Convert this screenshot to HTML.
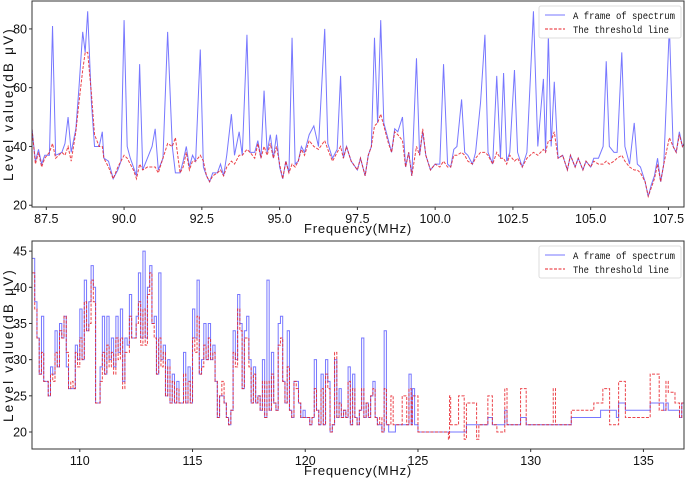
<!DOCTYPE html>
<html><head><meta charset="utf-8"><style>
body{margin:0;background:#fff;}
svg{display:block;font-family:"Liberation Sans","Noto Sans CJK SC",sans-serif;}
</style></head><body>
<svg id="chart" width="685" height="478" viewBox="0 0 685 478"></svg>
<script>
const topFreq=[87.04,87.15,87.25,87.35,87.45,87.6,87.7,87.8,88.0,88.1,88.2,88.3,88.45,88.55,88.67,88.75,88.83,88.95,89.05,89.2,89.3,89.35,89.5,89.65,89.8,89.9,90.0,90.1,90.2,90.3,90.4,90.5,90.6,90.75,90.9,91.0,91.1,91.25,91.4,91.55,91.65,91.8,91.9,92.0,92.1,92.2,92.3,92.45,92.55,92.65,92.75,92.85,93.0,93.1,93.2,93.3,93.45,93.55,93.7,93.8,93.95,94.05,94.2,94.3,94.4,94.5,94.6,94.7,94.8,94.9,95.0,95.1,95.2,95.3,95.4,95.5,95.6,95.7,95.8,95.95,96.1,96.25,96.45,96.55,96.7,96.85,96.96,97.05,97.15,97.3,97.5,97.6,97.75,97.85,97.95,98.05,98.15,98.25,98.35,98.5,98.6,98.7,98.8,98.95,99.05,99.15,99.25,99.4,99.5,99.6,99.7,99.85,100.0,100.15,100.27,100.4,100.5,100.6,100.7,100.85,100.95,101.05,101.2,101.3,101.46,101.6,101.7,101.85,101.98,102.1,102.2,102.3,102.4,102.55,102.65,102.8,102.95,103.16,103.3,103.48,103.55,103.64,103.73,103.83,103.95,104.1,104.25,104.35,104.5,104.6,104.75,104.85,105.0,105.1,105.25,105.4,105.5,105.6,105.75,105.85,106.0,106.1,106.25,106.4,106.5,106.6,106.75,106.85,106.95,107.05,107.15,107.25,107.35,107.53,107.65,107.75,107.85,107.95,108.0];
const topSpectrum=[46,35,39,34,37,37,81,37,38,41,50,38,46,60,79,72,86,55,40,40,45,36,35,29,32,35,83,40,36,33,30,68,32,36,40,46,32,36,79,40,31,31,35,40,33,37,35,73,33,30,28,31,31,34,30,37,51,37,45,37,78,38,38,42,36,59,38,44,36,44,33,29,35,31,77,34,35,40,38,44,47,40,80,41,36,39,64,36,40,35,32,36,30,37,40,77,48,83,48,42,38,46,45,50,33,38,30,70,37,45,37,32,34,34,68,34,33,39,40,56,38,37,34,38,55,78,38,34,64,36,65,35,38,66,38,33,38,86,40,63,38,78,40,62,36,37,32,37,33,36,32,35,33,36,36,40,69,40,38,38,72,40,34,48,34,33,28,23,27,30,36,28,34,81,40,38,45,40,41];
const topThreshold=[46,34,38,33,36,38,41,36,38,37,40,35,45,55,66,72,72,58,44,40,40,36,33,29,33,35,37,36,34,32,29,34,32,33,33,33,31,36,41,40,43,31,33,38,32,35,35,37,35,30,28,30,31,32,30,33,35,34,37,37,39,38,36,41,36,40,37,41,36,40,34,29,35,31,34,33,35,39,37,42,40,39,42,39,35,38,40,36,40,35,32,36,30,37,40,47,48,51,47,41,38,45,44,42,33,38,30,40,37,46,37,32,34,33,35,33,33,37,37,38,37,35,34,36,38,38,37,34,38,36,36,34,37,35,36,33,36,38,37,39,38,42,42,45,36,37,32,37,33,36,32,35,33,35,34,34,35,34,35,36,37,35,33,32,32,31,28,23,26,29,34,28,34,43,40,38,44,40,41];
const topXTicks=[87.5,90.0,92.5,95.0,97.5,100.0,102.5,105.0,107.5];
const topYTicks=[20,40,60,80];

const botDenseStart=107.9;
const botDenseSpectrum=[44,38,33,28,36,27,27,25,29,28,34,29,35,33,36,29,26,26,26,32,30,37,30,41,34,38,43,40,24,24,29,36,28,36,30,33,29,36,31,37,27,33,32,39,33,33,36,42,33,45,33,40,43,35,36,28,42,30,32,25,30,24,28,24,27,24,24,31,24,29,24,37,33,41,28,30,35,30,35,30,32,27,22,25,25,24,22,21,23,34,30,39,35,26,34,36,30,24,29,24,25,23,30,22,41,23,31,24,23,35,36,27,24,34,23,22,27,27,24,22,23,22,22,21,22,30,23,21,28,21,30,27,20,21,30,22,26,22,23,22,29,21,28,22,21,23,33,22,24,22,25,27,22,21,21,20,34,21,20,20,20,21];
const botDenseThreshold=[42,37,33,28,31,27,27,25,28,27,31,29,34,33,36,31,26,27,26,31,29,33,30,38,34,35,41,38,24,24,27,31,28,32,29,31,28,33,30,33,26,31,31,36,33,33,35,38,32,37,32,39,42,35,33,28,33,29,31,25,29,24,27,24,26,24,24,28,24,27,24,33,31,36,28,29,32,30,33,30,31,27,22,25,27,24,22,21,23,31,29,37,34,26,33,33,29,24,28,24,25,23,27,22,27,23,28,24,23,32,33,27,24,29,23,22,27,26,24,22,22,22,22,21,22,26,23,21,26,21,28,26,20,21,31,22,24,22,23,22,27,21,26,22,21,23,26,22,24,22,25,26,22,21,22,20,26,21,21,25,21,21];
const botSparseFreq=[124.1,124.3,124.5,124.6,124.7,124.75,124.85,125.0,126.35,126.4,126.45,126.8,127.05,127.15,127.6,127.7,128.1,128.3,128.5,128.85,128.95,129.55,129.8,131.0,131.1,131.8,132.8,133.1,133.2,133.5,133.8,133.9,134.2,135.3,135.7,135.9,136.0,136.1,136.4,136.6,136.7,136.9];
const botSparseSpectrum=[21,21,21,28,21,26,21,20,20,20,20,20,20,21,21,21,22,21,21,23,21,22,21,21,21,22,22,23,23,23,22,24,23,24,24,23,24,23,23,22,24,24];
const botSparseThreshold=[21,25,21,26,21,25,25,20,19,25,21,25,19,24,19,21,25,21,20,26,21,26,21,26,21,23,24,24,26,21,21,27,22,28,23,23,27,25.5,24,22,24,24];
const botXTicks=[110,115,120,125,130,135];
const botYTicks=[20,25,30,35,40,45];

const NS='http://www.w3.org/2000/svg';
const svg=document.getElementById('chart');
function mk(tag,attrs,parent){const e=document.createElementNS(NS,tag);for(const k in attrs)e.setAttribute(k,attrs[k]);(parent||svg).appendChild(e);return e;}

function panel(cfg){
  const g=mk('g',{});
  
  
  const sx=f=>cfg.x0+(f-cfg.fmin)/(cfg.fmax-cfg.fmin)*(cfg.x1-cfg.x0);
  const sy=v=>cfg.y1-(v-cfg.vmin)/(cfg.vmax-cfg.vmin)*(cfg.y1-cfg.y0);
  const cp='clip-'+cfg.name;
  const cl=mk('clipPath',{id:cp},g);mk('rect',{x:cfg.x0,y:cfg.y0,width:cfg.x1-cfg.x0,height:cfg.y1-cfg.y0},cl);
  function path(fr,vals,step){
    let d='';
    for(let i=0;i<fr.length;i++){
      const x=sx(fr[i]).toFixed(2),y=sy(vals[i]).toFixed(2);
      if(i===0)d+='M'+x+' '+y;
      else if(step){d+='H'+x+'V'+y;}
      else d+='L'+x+' '+y;
    }
    return d;
  }
  const blue=mk('path',{d:path(cfg.freq,cfg.spec,cfg.step),fill:'none',stroke:'#4a4aff','stroke-opacity':'0.75','stroke-width':'1','clip-path':'url(#'+cp+')'},g);
  
  
  const red=mk('path',{d:path(cfg.freq,cfg.thr,cfg.step),fill:'none',stroke:'#e8222a','stroke-opacity':'0.85','stroke-width':'1','stroke-dasharray':'3,1.5','clip-path':'url(#'+cp+')'},g);
  
  
  const frame=mk('rect',{x:cfg.x0,y:cfg.y0,width:cfg.x1-cfg.x0,height:cfg.y1-cfg.y0,fill:'none',stroke:'#333','stroke-width':'1'},g);
  
  
  cfg.xticks.forEach(t=>{
    const x=sx(t);
    mk('line',{x1:x,x2:x,y1:cfg.y1,y2:cfg.y1+3,stroke:'#333'},g);
    const tx=mk('text',{x:x,y:cfg.y1+16,'text-anchor':'middle','font-size':'12.5',fill:'#111'},g);
    tx.textContent=cfg.xfmt(t);
    
    
  });
  cfg.yticks.forEach(t=>{
    const y=sy(t);
    mk('line',{x1:cfg.x0-3,x2:cfg.x0,y1:y,y2:y,stroke:'#333'},g);
    const tx=mk('text',{x:cfg.x0-5,y:y+4.5,'text-anchor':'end','font-size':'12.5',fill:'#111'},g);
    tx.textContent=t;
    
    
  });
  const xl=mk('text',{x:(cfg.x0+cfg.x1)/2,y:cfg.y1+26,'text-anchor':'middle','font-size':'13',fill:'#111','letter-spacing':'0.8'},g);
  xl.textContent='Frequency(MHz)';
  
  
  const cy=(cfg.y0+cfg.y1)/2;
  const yl=mk('text',{x:13,y:cy,'text-anchor':'middle','font-size':'13.5',fill:'#111','letter-spacing':'2.2',transform:'rotate(-90 13 '+cy+')'},g);
  yl.textContent='Level value(dB μV)';
  
  
  const lg=mk('g',{},g);
  
  
  const lx=cfg.x1-145,ly=cfg.y0+5;
  mk('rect',{x:lx,y:ly,width:142,height:32,rx:2,fill:'#fff',stroke:'#ddd'},lg);
  mk('line',{x1:lx+6,x2:lx+26,y1:ly+9,y2:ly+9,stroke:'#4a4aff','stroke-opacity':'0.75'},lg);
  mk('line',{x1:lx+6,x2:lx+26,y1:ly+23,y2:ly+23,stroke:'#e8222a','stroke-dasharray':'3,1.5'},lg);
  const t1=mk('text',{x:lx+34,y:ly+13,'font-size':'10','font-family':'Liberation Mono, monospace',fill:'#111',textLength:'102',lengthAdjust:'spacingAndGlyphs'},lg);
  t1.textContent='A frame of spectrum';
  
  
  const t2=mk('text',{x:lx+34,y:ly+27,'font-size':'10','font-family':'Liberation Mono, monospace',fill:'#111',textLength:'96',lengthAdjust:'spacingAndGlyphs'},lg);
  t2.textContent='The threshold line';
  
  
}

panel({name:'top-chart',x0:32,x1:684,y0:1,y1:207,fmin:87.04,fmax:108.0,vmin:19.4,vmax:89.5,
  freq:topFreq,spec:topSpectrum,thr:topThreshold,step:false,xticks:topXTicks,yticks:topYTicks,xfmt:t=>t.toFixed(1)});

const botFreq=[],botSpectrum=[],botThreshold=[];
botDenseSpectrum.forEach((v,i)=>{botFreq.push(+(botDenseStart+i*0.1).toFixed(2));botSpectrum.push(v);botThreshold.push(botDenseThreshold[i]);});
botSparseFreq.forEach((f,i)=>{botFreq.push(f);botSpectrum.push(botSparseSpectrum[i]);botThreshold.push(botSparseThreshold[i]);});

panel({name:'bottom-chart',x0:32,x1:684,y0:241,y1:449,fmin:107.88,fmax:136.8,vmin:17.65,vmax:46.4,
  freq:botFreq,spec:botSpectrum,thr:botThreshold,step:true,xticks:botXTicks,yticks:botYTicks,xfmt:t=>String(t)});
</script>
</body></html>
